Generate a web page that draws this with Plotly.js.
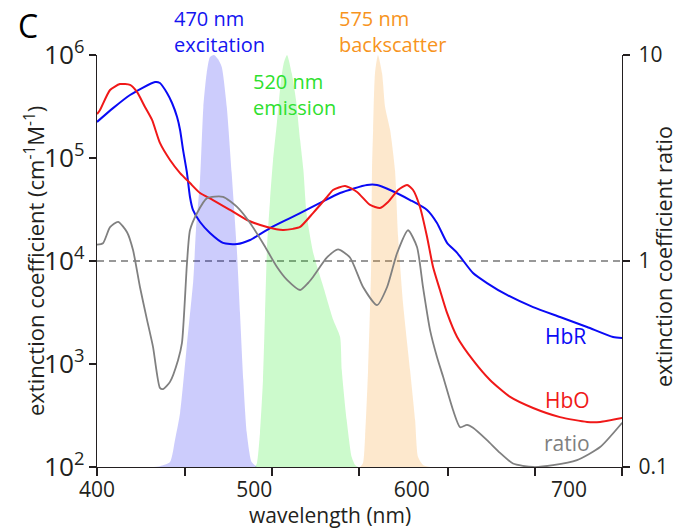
<!DOCTYPE html>
<html>
<head>
<meta charset="utf-8">
<script src="https://cdn.plot.ly/plotly-3.0.1.min.js"></script>
<style>html,body{margin:0;padding:0;background:#fff;}#chart{width:678px;height:529px;}</style>
</head>
<body>
<div id="chart"></div>
<script>
// ---------- data ----------
const hbrWavelength = [400, 410.2, 421, 436.9, 440, 444.5, 447.7, 450.9, 452.8, 454.7, 457.2, 459.1, 461, 465.5, 471.8, 480.1, 489, 497.3, 510, 522.7, 529.1, 541.8, 554.5, 571.6, 578, 586.3, 599, 609.8, 616.1, 622.5, 628.9, 639, 647.9, 660.6, 677.2, 694.3, 711.5, 728, 733.8];
const hbrValues = [224000, 305000, 409000, 547000, 535000, 428000, 342000, 250000, 187000, 120000, 71400, 41800, 31300, 23900, 18700, 15000, 14600, 16000, 20900, 26100, 29200, 36600, 45700, 54700, 54700, 48900, 39100, 31300, 23400, 15000, 12000, 7640, 6110, 4680, 3570, 2860, 2290, 1830, 1790];

const hboWavelength = [400, 401.9, 408.3, 414.6, 421, 425.4, 430.5, 435, 440, 446.4, 452.8, 459.1, 465.5, 473.7, 484.6, 495.4, 508.1, 518.2, 524.6, 529.1, 537.3, 546.2, 550, 557.7, 565.3, 573.6, 579.9, 585, 591.4, 597.1, 600.9, 605.3, 609.8, 613.6, 618, 622.5, 628.9, 639, 649.8, 662.6, 677.2, 694.3, 711.5, 719.8, 733.8];
const hboValues = [267000, 292000, 457000, 522000, 512000, 438000, 313000, 234000, 140000, 95700, 71400, 57100, 45700, 39100, 31300, 25000, 21400, 20000, 20500, 21400, 29200, 41800, 48900, 53500, 46800, 35000, 32700, 37400, 48900, 54700, 48900, 33400, 17100, 8750, 5220, 3130, 1830, 1090, 700, 479, 374, 305, 274, 274, 299];

const ratioWavelength = [400, 403.8, 408.3, 413.4, 419.1, 422.9, 427.3, 431.8, 435.6, 440, 442, 446.4, 451.5, 454, 457.2, 459.1, 463.6, 469.9, 480.1, 489, 497.3, 505.5, 514.4, 520.8, 529.1, 534.2, 537.3, 546.2, 553.2, 560.8, 569.1, 578, 584.4, 590.7, 597.7, 603.4, 607.2, 611.7, 616.1, 620, 626.3, 630.8, 635.2, 639, 647.9, 656.2, 664.4, 677.2, 689.9, 705.1, 719.8, 733.8];
const ratioValues = [1.20, 1.22, 1.46, 1.55, 1.38, 1.13, 0.748, 0.518, 0.383, 0.242, 0.239, 0.259, 0.330, 0.400, 0.978, 1.41, 1.71, 2.02, 2.05, 1.83, 1.53, 1.22, 0.935, 0.809, 0.723, 0.782, 0.836, 1.04, 1.14, 1.04, 0.748, 0.611, 0.748, 1.09, 1.41, 1.17, 0.748, 0.462, 0.342, 0.274, 0.189, 0.156, 0.160, 0.155, 0.135, 0.117, 0.104, 0.100, 0.102, 0.108, 0.125, 0.164];

// filter spectra (normalised transmission)
const excitationWavelength = [433.7, 440.1, 446.4, 449.6, 452.8, 457.0, 461.2, 462.9, 465.5, 467.6, 469.7, 471.8, 474.4, 476.9, 479.3, 482.5, 485.6, 488.8, 490.9, 493.0, 495.2, 498.3, 501.7];
const excitationValues = [0, 0.002, 0.012, 0.066, 0.131, 0.291, 0.454, 0.575, 0.697, 0.874, 0.956, 0.995, 1.0, 0.990, 0.971, 0.874, 0.714, 0.534, 0.374, 0.211, 0.083, 0.012, 0];

const emissionWavelength = [500.4, 501.7, 503.6, 505.5, 506.8, 508.1, 510.0, 511.9, 514.2, 515.7, 517.4, 518.9, 520.8, 523.8, 526.5, 529.1, 531.2, 533.3, 537.5, 543.9, 550.2, 554.5, 555.6, 558.7, 561.9, 564.0, 565.9];
const emissionValues = [0, 0.010, 0.083, 0.211, 0.374, 0.534, 0.648, 0.745, 0.830, 0.891, 0.951, 0.983, 1.0, 0.956, 0.891, 0.794, 0.721, 0.612, 0.519, 0.437, 0.357, 0.316, 0.235, 0.114, 0.024, 0.005, 0];

const backscatterWavelength = [567.2, 569.1, 570.4, 572.3, 574.2, 574.8, 575.5, 576.7, 578.6, 581.2, 581.8, 583.1, 586.3, 589.4, 591.4, 594.5, 599.0, 602.2, 604.1, 607.2, 611.7];
const backscatterValues = [0, 0.010, 0.073, 0.235, 0.478, 0.721, 0.818, 0.956, 1.0, 0.956, 0.932, 0.874, 0.818, 0.721, 0.558, 0.398, 0.235, 0.114, 0.024, 0.005, 0];

const xTickLabels = [400, 500, 600, 700];
const xTickMarks = [400, 455.9, 511.3, 566.6, 623.1, 678.4, 733.7];
const ratioReference = 1;

// ---------- layout helpers ----------
const W = 678, H = 529;
const L = 97, R = 622, T = 55, B = 467;
const px = x => (x - L) / (R - L);
const py = y => (B - y) / (B - T);
const FONT = "'Open Sans', 'Noto Sans', sans-serif";
const INK = '#231f20';
const XR = [400, 733.7];
const RATIO_RANGE = [-1, 1];

const traces = [
  {x: excitationWavelength, y: excitationValues, xaxis: 'x', yaxis: 'y', mode: 'none', fill: 'tozeroy',
   fillcolor: 'rgba(0,0,240,0.2)', line: {shape: 'spline', smoothing: 0.6}},
  {x: emissionWavelength, y: emissionValues, xaxis: 'x', yaxis: 'y', mode: 'none', fill: 'tozeroy',
   fillcolor: 'rgba(0,230,0,0.2)', line: {shape: 'spline', smoothing: 0.6}},
  {x: backscatterWavelength, y: backscatterValues, xaxis: 'x', yaxis: 'y', mode: 'none', fill: 'tozeroy',
   fillcolor: 'rgba(247,148,29,0.22)', line: {shape: 'spline', smoothing: 0.6}},
  {x: hbrWavelength, y: hbrValues, xaxis: 'x', yaxis: 'y2', mode: 'lines', name: 'HbR',
   line: {color: '#0a0af5', width: 2, shape: 'spline', smoothing: 0.6}},
  {x: hboWavelength, y: hboValues, xaxis: 'x', yaxis: 'y2', mode: 'lines', name: 'HbO',
   line: {color: '#f01818', width: 2, shape: 'spline', smoothing: 0.6}},
  {x: ratioWavelength, y: ratioValues, xaxis: 'x2', yaxis: 'y3', mode: 'lines', name: 'ratio',
   line: {color: '#808080', width: 1.8, shape: 'spline', smoothing: 0.6}}
];

const tickFont = {family: FONT, size: 21, color: INK};
function ann(text, x, y, color, opts) {
  return Object.assign({text: text, x: px(x), y: py(y), xref: 'paper', yref: 'paper', showarrow: false,
    font: {family: FONT, size: 21, color: color}, xanchor: 'left', yanchor: 'middle'}, opts || {});
}
const twoLine = c => ({align: 'left', font: {family: FONT, size: 20, color: c}});

const layout = {
  width: W, height: H,
  margin: {l: L, r: W - R, t: T, b: H - B, pad: 0},
  paper_bgcolor: '#fff', plot_bgcolor: 'rgba(0,0,0,0)',
  showlegend: false, hovermode: false,
  xaxis: {range: XR, tickmode: 'array', tickvals: xTickMarks, showticklabels: false,
    ticks: 'outside', ticklen: 8, tickwidth: 1.3, tickcolor: INK,
    showline: true, linecolor: INK, linewidth: 1.3, showgrid: false, zeroline: false, anchor: 'y'},
  xaxis2: {range: XR, overlaying: 'x', anchor: 'y', side: 'bottom', tickmode: 'array', tickvals: xTickLabels,
    ticks: '', showline: false, showgrid: false, zeroline: false, tickfont: tickFont, ticklabelstandoff: 8},
  yaxis: {range: [0, 1], visible: false, fixedrange: true},
  yaxis2: {type: 'log', range: [2, 6], overlaying: 'y', side: 'left', anchor: 'x', dtick: 1,
    exponentformat: 'power', showline: true, linecolor: INK, linewidth: 1.3, ticks: 'outside',
    ticklen: 7, tickwidth: 1.3, tickcolor: INK, showgrid: false, zeroline: false, tickfont: tickFont},
  yaxis3: {type: 'log', range: RATIO_RANGE, overlaying: 'y', side: 'right', anchor: 'x', dtick: 1,
    exponentformat: 'none', showline: true, linecolor: INK, linewidth: 1.3, ticks: 'outside',
    ticklen: 7, tickwidth: 1.3, tickcolor: INK, showgrid: false, zeroline: false, tickfont: tickFont,
    ticklabelstandoff: 4},
  shapes: [{type: 'line', xref: 'paper', x0: 0, x1: 1, yref: 'paper',
    y0: (Math.log10(ratioReference) - RATIO_RANGE[0]) / (RATIO_RANGE[1] - RATIO_RANGE[0]),
    y1: (Math.log10(ratioReference) - RATIO_RANGE[0]) / (RATIO_RANGE[1] - RATIO_RANGE[0]),
    line: {color: '#777', width: 1.3, dash: '7px,5px'}, layer: 'below'}],
  annotations: [
    ann('C', 28, 26, '#000', {xanchor: 'center', font: {family: FONT, size: 32, color: '#000'}}),
    ann('470 nm<br>excitation', 172, 32, '#1414f0', twoLine('#1414f0')),
    ann('520 nm<br>emission', 251, 94.5, '#2ee02e', twoLine('#2ee02e')),
    ann('575 nm<br>backscatter', 337, 32, '#f7941d', twoLine('#f7941d')),
    ann('HbR', 565.5, 336, '#0a0af5', {xanchor: 'center'}),
    ann('HbO', 567, 400, '#f01818', {xanchor: 'center'}),
    ann('ratio', 566.5, 443, '#808080', {xanchor: 'center'}),
    ann('wavelength (nm)', 330, 515.3, INK, {xanchor: 'center', font: {family: FONT, size: 21, color: INK}}),
    ann('extinction coefficient (cm<sup>-1</sup>M<sup>-1</sup>)', 34, 261, INK,
        {xanchor: 'center', textangle: -90, font: {family: FONT, size: 22, color: INK}}),
    ann('extinction coefficient ratio', 663, 257, INK,
        {xanchor: 'center', textangle: -90, font: {family: FONT, size: 21.5, color: INK}})
  ]
};

Plotly.newPlot('chart', traces, layout, {staticPlot: true, displayModeBar: false});
</script>
</body>
</html>
